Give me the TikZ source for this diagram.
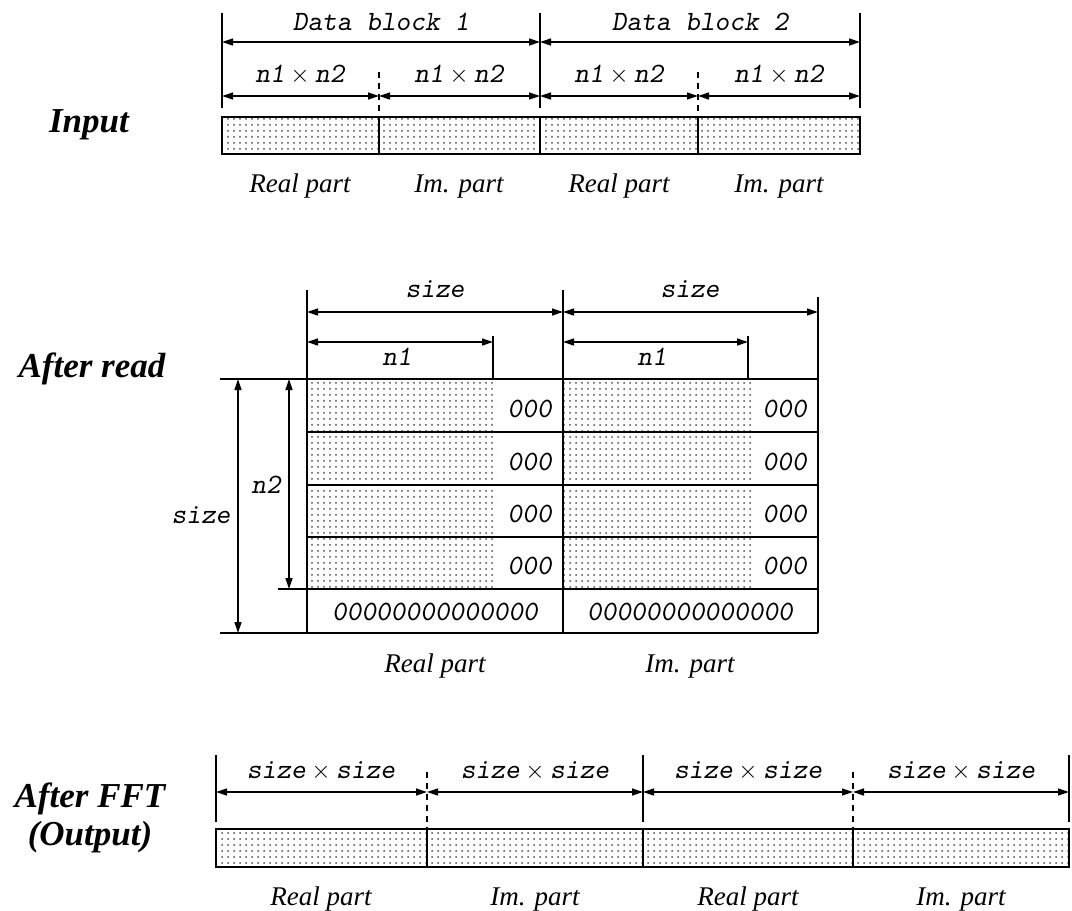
\documentclass[tikz,border=0pt]{standalone}
\usepackage{fontspec}
\setmainfont{Liberation Serif}
\newfontfamily\monosl{lmmonoslant10-regular.otf}
\usetikzlibrary{arrows.meta,patterns.meta}
\tikzset{
  dim/.style    = {{Triangle[length=11pt,width=7pt]}-{Triangle[length=11pt,width=7pt]},
                   line width=1.3pt},
  guide/.style  = {line width=1.3pt},
  guided/.style = {line width=1.3pt, dash pattern=on 6pt off 5pt},
  frame/.style  = {line width=1.6pt},
  cell/.style   = {pattern={Dots[distance=6pt,radius=1pt]}, pattern color=black!70},
  stage/.style  = {font=\fontsize{35}{40}\selectfont\bfseries\itshape, anchor=base, inner sep=0pt},
  part/.style   = {font=\fontsize{27}{30}\selectfont\itshape, anchor=base, inner sep=0pt},
  mono/.style   = {font=\fontsize{28}{30}\selectfont\monosl, anchor=base, inner sep=0pt},
}

\begin{document}
\begin{tikzpicture}[x=1pt,y=-1pt]
  \useasboundingbox (0,0) rectangle (1072,911);

  % input
  \node[stage] (lin) at (89,132) {Input};
  \fill[cell] (222,117) rectangle (860,154);
  \draw[frame] (222,117) rectangle (860,154);
  \foreach \x in {379,540,698} \draw[guide] (\x,117) -- (\x,154);
  \foreach \x in {222,540,860} \draw[guide] (\x,13) -- (\x,108);
  \foreach \x in {379,698} \draw[guided] (\x,72) -- (\x,117);
  \draw[dim] (222,42) -- (540,42);
  \draw[dim] (540,42) -- (860,42);
  \foreach \a/\b in {222/379,379/540,540/698,698/860} \draw[dim] (\a,96) -- (\b,96);
  \node[mono] (db1) at (381,30) {Data block 1};
  \node[mono] (db2) at (700,30) {Data block 2};
  \foreach \x [count=\i] in {300,459,619,779} \node[mono] (nn\i) at (\x,82) {n1${}\times{}$n2};
  \foreach \x/\t [count=\i] in {300/Real part,459/Im. part,619/Real part,779/Im. part}
    \node[part] (pin\i) at (\x,192) {\t};

  % after read
  \node[stage] (lrd) at (92,377) {After read};
  \fill[cell] (307,379) rectangle (497,589);
  \fill[cell] (563,379) rectangle (752,589);
  \draw[guide] (220,379) -- (818,379);
  \foreach \y in {432,485,537} \draw[guide] (307,\y) -- (818,\y);
  \draw[guide] (278,589) -- (818,589);
  \draw[guide] (220,633) -- (818,633);
  \draw[guide] (307,290) -- (307,633);
  \draw[guide] (563,290) -- (563,633);
  \draw[guide] (818,297) -- (818,633);
  \draw[guide] (493,336) -- (493,379);
  \draw[guide] (748,336) -- (748,379);
  \draw[dim] (307,312) -- (563,312);
  \draw[dim] (563,312) -- (818,312);
  \draw[dim] (307,342) -- (493,342);
  \draw[dim] (563,342) -- (748,342);
  \draw[dim] (238,379) -- (238,633);
  \draw[dim] (289,379) -- (289,589);
  \node[mono] (sz1) at (435,297) {size};
  \node[mono] (sz2) at (690,297) {size};
  \node[mono] (na1) at (397,365) {n1};
  \node[mono] (na2) at (652,365) {n1};
  \node[mono] (szv) at (201,523) {size};
  \node[mono] (nv) at (266,493) {n2};
  \foreach \y [count=\i] in {417,470,522,574} {
    \node[mono, anchor=base east] (za\i) at (552,\y) {000};
    \node[mono, anchor=base east] (zb\i) at (807,\y) {000};
  }
  \node[mono] (zr) at (435,620) {00000000000000};
  \node[mono] (zi) at (690,620) {00000000000000};
  \node[part] (prd1) at (435,672) {Real part};
  \node[part] (prd2) at (690,672) {Im. part};

  % after fft
  \node[stage] (lff) at (90,807) {After FFT};
  \node[stage] (lout) at (90,845) {(Output)};
  \fill[cell] (216,829) rectangle (1069,867);
  \draw[frame] (216,829) rectangle (1069,867);
  \foreach \x in {427,643,853} \draw[guide] (\x,829) -- (\x,867);
  \foreach \x in {216,643,1069} \draw[guide] (\x,755) -- (\x,822);
  \foreach \x in {427,853} \draw[guided] (\x,772) -- (\x,829);
  \foreach \a/\b in {216/427,427/643,643/853,853/1069} \draw[dim] (\a,792) -- (\b,792);
  \foreach \x [count=\i] in {321,535,748,961} \node[mono] (ss\i) at (\x,778) {size${}\times{}$size};
  \foreach \x/\t [count=\i] in {321/Real part,535/Im. part,748/Real part,961/Im. part}
    \node[part] (pff\i) at (\x,905) {\t};
\end{tikzpicture}
\end{document}
